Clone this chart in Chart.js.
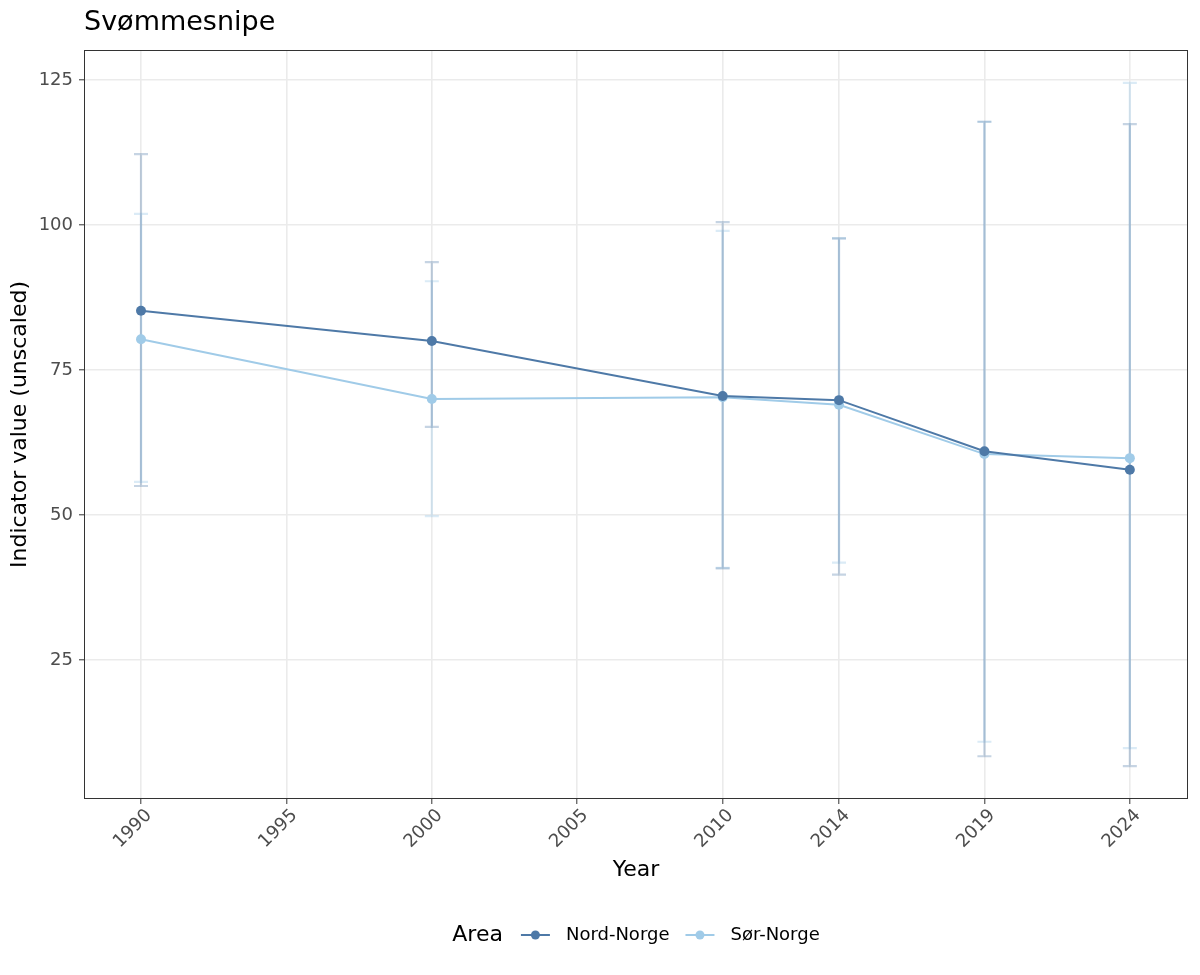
<!DOCTYPE html>
<html>
<head>
<meta charset="utf-8">
<script src="https://cdn.jsdelivr.net/npm/chart.js@4.4.1/dist/chart.umd.min.js"></script>
<style>
  html, body { margin: 0; padding: 0; background: #fff; }
  #wrap { width: 1200px; height: 975px; }
</style>
</head>
<body>
<div id="wrap"><canvas id="myChart" width="1200" height="975"></canvas></div>
<script>
// Datos
const years = [1990, 2000, 2010, 2014, 2019, 2024];
const xTicks = [1990, 1995, 2000, 2005, 2010, 2014, 2019, 2024];
const yTicks = [25, 50, 75, 100, 125];

const nord = [85.2, 80.0, 70.5, 69.8, 61.0, 57.8];
const nordLow = [55.0, 65.2, 40.8, 39.7, 8.4, 6.7];
const nordHigh = [112.2, 93.6, 100.5, 97.7, 117.8, 117.4];

const sor = [80.3, 70.0, 70.3, 69.0, 60.5, 59.8];
const sorLow = [55.7, 49.8, 40.9, 41.8, 10.9, 9.8];
const sorHigh = [101.9, 90.3, 99.0, 97.7, 117.8, 124.5];

const colNord = '#4E79A7';
const colSor = '#A0CBE8';
const font = 'DejaVu Sans';

// Barras de error (debajo de las lineas)
const errorBars = {
  id: 'errorBars',
  beforeDatasetsDraw(chart) {
    const { ctx, scales: { x, y } } = chart;
    const sets = [
      { lo: sorLow, hi: sorHigh, color: 'rgba(160,203,232,0.38)' },
      { lo: nordLow, hi: nordHigh, color: 'rgba(78,121,167,0.32)' }
    ];
    ctx.save();
    ctx.lineWidth = 2.2;
    sets.forEach(s => {
      ctx.strokeStyle = s.color;
      years.forEach((yr, i) => {
        const px = x.getPixelForValue(yr);
        const top = y.getPixelForValue(s.hi[i]);
        const bot = y.getPixelForValue(s.lo[i]);
        ctx.beginPath();
        ctx.moveTo(px, top); ctx.lineTo(px, bot);
        ctx.moveTo(px - 7, top); ctx.lineTo(px + 7, top);
        ctx.moveTo(px - 7, bot); ctx.lineTo(px + 7, bot);
        ctx.stroke();
      });
    });
    ctx.restore();
  }
};

// Marco del panel, titulo y leyenda
const extras = {
  id: 'extras',
  afterDraw(chart) {
    const { ctx, chartArea: a } = chart;
    ctx.save();
    ctx.strokeStyle = '#333333';
    ctx.lineWidth = 1;
    ctx.strokeRect(a.left + 0.5, a.top + 0.5, a.right - a.left - 1, a.bottom - a.top - 1);

    ctx.fillStyle = '#000';
    ctx.font = '27px "' + font + '"';
    ctx.textBaseline = 'middle';
    ctx.textAlign = 'left';
    ctx.fillText('Svømmesnipe', a.left, 23);

    // leyenda
    const ly = 935;
    const items = chart.data.datasets.map(d => ({ label: d.label, color: d.borderColor }));
    ctx.font = '22px "' + font + '"';
    const wTitle = ctx.measureText('Area').width;
    ctx.font = '18px "' + font + '"';
    const widths = items.map(it => ctx.measureText(it.label).width);
    const keyW = 29, gapTitle = 18, gapKey = 16, gapItem = 16;
    let total = wTitle + gapTitle;
    widths.forEach((w, i) => { total += keyW + gapKey + w + (i < widths.length - 1 ? gapItem : 0); });
    let lx = (a.left + a.right) / 2 - total / 2;
    ctx.font = '22px "' + font + '"';
    ctx.fillStyle = '#000';
    ctx.fillText('Area', lx, ly);
    lx += wTitle + gapTitle;
    ctx.font = '18px "' + font + '"';
    items.forEach((it, i) => {
      ctx.strokeStyle = it.color;
      ctx.lineWidth = 2;
      ctx.beginPath();
      ctx.moveTo(lx, ly); ctx.lineTo(lx + keyW, ly);
      ctx.stroke();
      ctx.fillStyle = it.color;
      ctx.beginPath();
      ctx.arc(lx + keyW / 2, ly, 4.5, 0, Math.PI * 2);
      ctx.fill();
      lx += keyW + gapKey;
      ctx.fillStyle = '#000';
      ctx.fillText(it.label, lx, ly);
      lx += widths[i] + gapItem;
    });
    ctx.restore();
  }
};

const ctx = document.getElementById('myChart');
const chart1 = new Chart(ctx, {
  type: 'line',
  data: {
    datasets: [
      {
        label: 'Nord-Norge',
        data: years.map((yr, i) => ({ x: yr, y: nord[i] })),
        borderColor: colNord,
        backgroundColor: colNord,
        borderWidth: 2,
        pointRadius: 5,
        pointHoverRadius: 5,
        pointBorderWidth: 0,
        tension: 0
      },
      {
        label: 'Sør-Norge',
        data: years.map((yr, i) => ({ x: yr, y: sor[i] })),
        borderColor: colSor,
        backgroundColor: colSor,
        borderWidth: 2,
        pointRadius: 5,
        pointHoverRadius: 5,
        pointBorderWidth: 0,
        tension: 0
      }
    ]
  },
  options: {
    responsive: false,
    animation: false,
    layout: { padding: { left: 0, right: 12, top: 50, bottom: 85 } },
    plugins: {
      legend: { display: false },
      title: { display: false },
      tooltip: { enabled: false }
    },
    scales: {
      x: {
        type: 'linear',
        min: 1988.04,
        max: 2026.0,
        afterBuildTicks: s => { s.ticks = xTicks.map(v => ({ value: v })); },
        afterFit: s => { s.height = 91; },
        grid: { color: '#ebebeb', lineWidth: 1.6, tickColor: '#333333', tickLength: 5, tickWidth: 1 },
        border: { display: false },
        ticks: {
          color: '#4d4d4d',
          font: { family: font, size: 18 },
          maxRotation: 45,
          minRotation: 45,
          padding: 1,
          labelOffset: 8,
          callback: v => String(v)
        },
        title: {
          display: true,
          text: 'Year',
          color: '#000',
          font: { family: font, size: 22 },
          padding: { top: 0, bottom: 7 }
        }
      },
      y: {
        min: 1.03,
        max: 130.17,
        afterBuildTicks: s => { s.ticks = yTicks.map(v => ({ value: v })); },
        afterFit: s => { s.width = 84; },
        grid: { color: '#ebebeb', lineWidth: 1.6, tickColor: '#333333', tickLength: 5, tickWidth: 1 },
        border: { display: false },
        ticks: {
          color: '#4d4d4d',
          font: { family: font, size: 18 },
          padding: 6,
          callback: v => String(v)
        },
        title: {
          display: true,
          text: 'Indicator value (unscaled)',
          color: '#000',
          font: { family: font, size: 22 },
          padding: { top: 7, bottom: 0 }
        }
      }
    }
  },
  plugins: [errorBars, extras]
});
</script>
</body>
</html>
